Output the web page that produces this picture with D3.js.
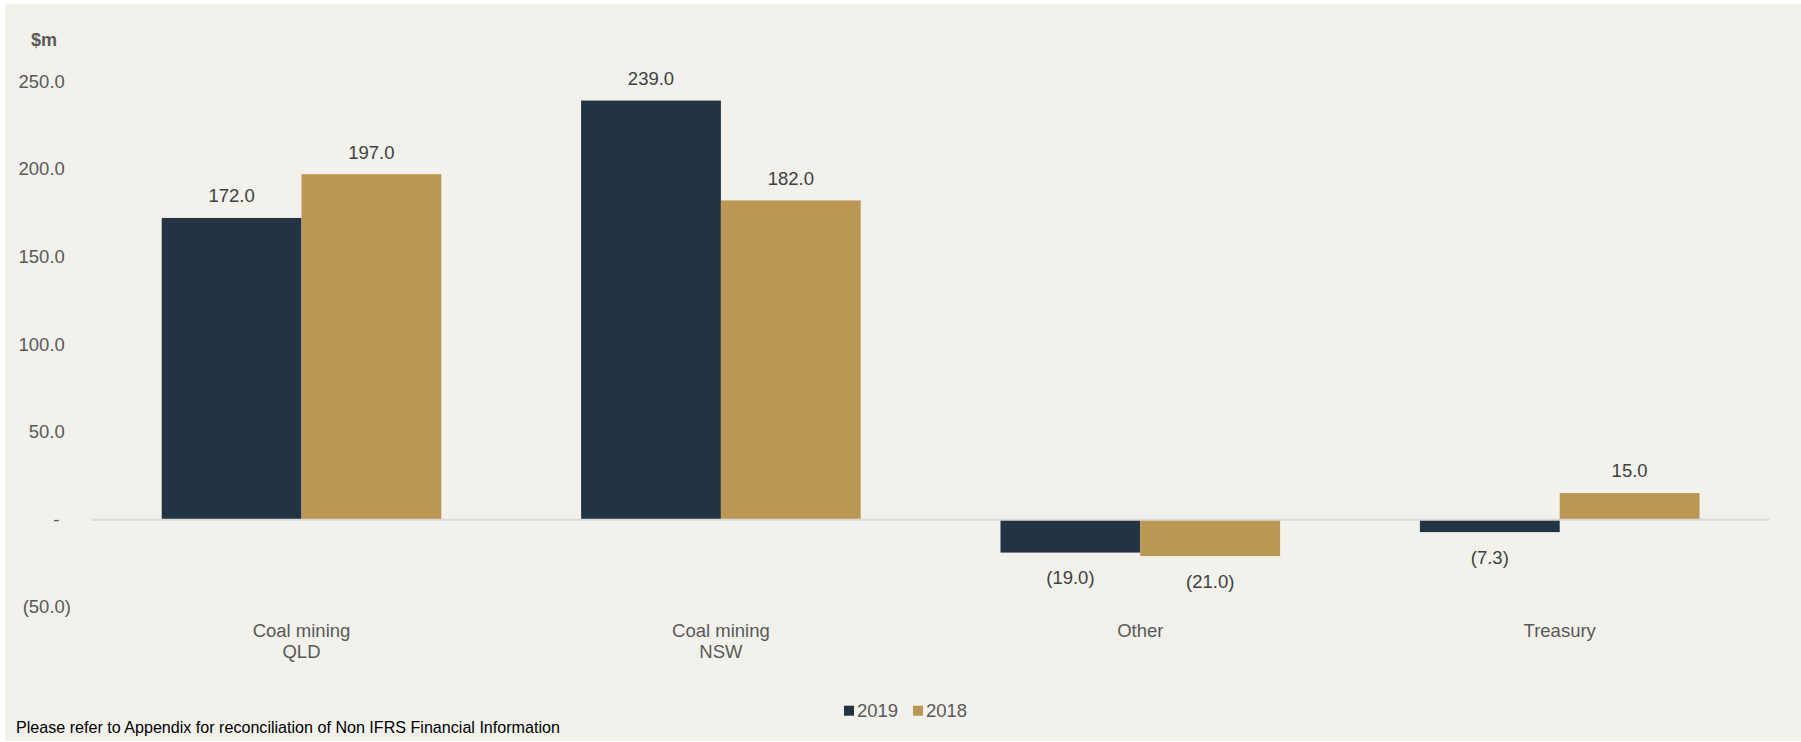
<!DOCTYPE html>
<html><head><meta charset="utf-8">
<script src="https://cdnjs.cloudflare.com/ajax/libs/d3/7.8.5/d3.min.js"></script>
<style>
html,body{margin:0;padding:0;background:#ffffff;}
svg{display:block;font-family:"Liberation Sans",Arial,sans-serif;}
</style></head>
<body>
<svg id="chart" width="1801" height="742"></svg>
<script>
const categories = [["Coal mining","QLD"],["Coal mining","NSW"],["Other"],["Treasury"]];
const seriesNames = ["2019","2018"];
const values2019 = [172.0, 239.0, -19.0, -7.3];
const values2018 = [197.0, 182.0, -21.0, 15.0];
const yTicks = [-50, 0, 50, 100, 150, 200, 250];
const colors = ["#223344", "#BA9854"];
const unitLabel = "$m";
const footnote = "Please refer to Appendix for reconciliation of Non IFRS Financial Information";

const svg = d3.select("#chart");
svg.append("rect").attr("x",5).attr("y",4).attr("width",1796).attr("height",737).attr("fill","#F2F1EC");

const catKeys = categories.map(c => c.join(" "));
const x0 = d3.scaleBand().domain(catKeys).range([91.8, 1769.4]).paddingInner(1/3).paddingOuter(1/6);
const x1 = d3.scaleBand().domain(seriesNames).range([0, x0.bandwidth()]);
const y = d3.scaleLinear().domain([0, 250]).range([519.3, 81.3]);

const fmt = v => v === 0 ? "-" : (v < 0 ? "(" + d3.format(".1f")(-v) + ")" : d3.format(".1f")(v));

// y axis labels (accounting-style alignment)
const yAxis = d3.axisLeft(y).tickValues(yTicks).tickSize(0).tickPadding(0).tickFormat(fmt);
const gy = svg.append("g").attr("transform","translate(71,0)").call(yAxis);
gy.select(".domain").remove();
gy.selectAll("text").attr("font-size","18.5px").attr("fill","#595959").attr("font-family","Liberation Sans, Arial, sans-serif")
  .attr("dx", d => d < 0 ? 0 : (d === 0 ? -11.5 : -6.2));

// unit label
svg.append("text").attr("x",31).attr("y",40).attr("dy","0.35em").attr("font-size","18px").attr("font-weight","bold").attr("fill","#595959").text(unitLabel);

const data = catKeys.map((k,i) => ({key:k, lines:categories[i], vals:[{s:"2019",v:values2019[i]},{s:"2018",v:values2018[i]}]}));

const groups = svg.selectAll("g.grp").data(data).join("g").attr("class","grp")
  .attr("transform", d => `translate(${x0(d.key)},0)`);

groups.selectAll("rect").data(d => d.vals).join("rect")
  .attr("x", d => x1(d.s)).attr("width", x1.bandwidth())
  .attr("y", d => y(Math.max(0,d.v))).attr("height", d => Math.abs(y(d.v)-y(0)))
  .attr("fill", (d,i) => colors[i]);

// zero line
svg.append("line").attr("x1",x0.range()[0]).attr("x2",x0.range()[1]).attr("y1",y(0)+0.5).attr("y2",y(0)+0.5)
  .attr("stroke","#D9D9D9").attr("stroke-width",2);

groups.selectAll("text.val").data(d => d.vals).join("text").attr("class","val")
  .attr("x", d => x1(d.s) + x1.bandwidth()/2)
  .attr("y", d => d.v >= 0 ? y(d.v) - 22 : y(d.v) + 25)
  .attr("dy","0.35em").attr("text-anchor","middle").attr("font-size","18.5px").attr("fill","#404040")
  .text(d => fmt(d.v));

// category labels
groups.each(function(d){
  const t = d3.select(this).append("text").attr("text-anchor","middle").attr("font-size","18.5px").attr("fill","#595959");
  d.lines.forEach((ln,j) => {
    t.append("tspan").attr("x", x0.bandwidth()/2).attr("y", 630.5 + j*21).attr("dy","0.35em").text(ln);
  });
});

// legend
const leg = svg.append("g");
const legX = [844, 913];
seriesNames.forEach((s,i) => {
  leg.append("rect").attr("x",legX[i]).attr("y",705.7).attr("width",10).attr("height",10).attr("fill",colors[i]);
  leg.append("text").attr("x",legX[i]+13).attr("y",710.7).attr("dy","0.35em").attr("font-size","18.5px").attr("fill","#595959").text(s);
});

// footnote
svg.append("text").attr("x",16).attr("y",727).attr("dy","0.35em").attr("font-size","16.1px").attr("fill","#000000").text(footnote);
</script>
</body></html>
